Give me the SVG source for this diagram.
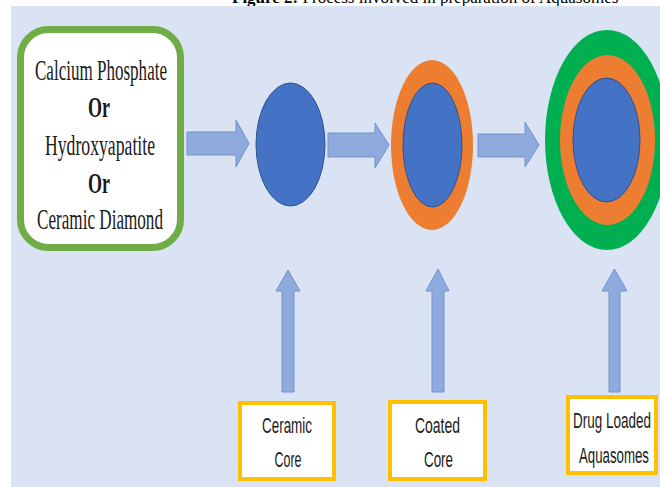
<svg xmlns="http://www.w3.org/2000/svg" width="660" height="487" viewBox="0 0 660 487">
<defs>
<style>
.bg{fill:#DAE3F3}
.src{fill:#FFFFFF;stroke:#70AD47;stroke-width:7}
.ser{font-family:"Liberation Serif","Times New Roman",serif;font-size:29px;fill:#1a1a1a;text-anchor:middle}
.b{font-weight:bold}
.arr{fill:#8FAADC;stroke:#7393CC;stroke-width:1}
.core{fill:#4472C4;stroke:#2F528F;stroke-width:1}
.orange{fill:#ED7D31}
.green{fill:#00B050}
.lbl{fill:#FFFFFF;stroke:#FFC000;stroke-width:4}
.sans{font-family:"Liberation Sans",Arial,sans-serif;font-size:22px;fill:#1a1a1a;text-anchor:middle}
.title{font-family:"Liberation Serif","Times New Roman",serif;font-size:17px;fill:#000}
</style>
</defs>
<rect width="660" height="487" fill="#FFFFFF"/>
<text class="title" x="232" y="3"><tspan font-weight="bold">Figure 2:</tspan> Process involved in preparation of Aquasomes</text>
<rect class="bg" x="11" y="6" width="649" height="481"/>

<g id="source">
<rect class="src" x="20.5" y="29.5" width="160" height="218" rx="28" ry="28"/>
<text class="ser" x="101" y="80" textLength="132" lengthAdjust="spacingAndGlyphs">Calcium Phosphate</text>
<text class="ser b" x="99" y="117" textLength="22" lengthAdjust="spacingAndGlyphs">Or</text>
<text class="ser" x="100" y="155" textLength="110" lengthAdjust="spacingAndGlyphs">Hydroxyapatite</text>
<text class="ser b" x="99" y="193" textLength="22" lengthAdjust="spacingAndGlyphs">Or</text>
<text class="ser" x="100" y="229" textLength="126" lengthAdjust="spacingAndGlyphs">Ceramic Diamond</text>
</g>

<g id="ceramic-core">
<ellipse class="core" cx="290.5" cy="144.5" rx="34.5" ry="61.5"/>
</g>

<g id="coated-core">
<ellipse class="orange" cx="432" cy="145" rx="41" ry="85"/>
<ellipse class="core" cx="432.5" cy="145" rx="29.5" ry="62"/>
</g>

<g id="drug-loaded">
<ellipse class="green" cx="607" cy="140" rx="62" ry="110"/>
<ellipse class="orange" cx="607.5" cy="140" rx="47.5" ry="85"/>
<ellipse class="core" cx="606.5" cy="140" rx="33.5" ry="62"/>
</g>

<g id="label-ceramic">
<rect class="lbl" x="240" y="403" width="94" height="76"/>
<text class="sans" x="287" y="433" textLength="50" lengthAdjust="spacingAndGlyphs">Ceramic</text>
<text class="sans" x="288" y="467" textLength="27" lengthAdjust="spacingAndGlyphs">Core</text>
</g>

<g id="label-coated">
<rect class="lbl" x="390" y="402" width="95" height="77"/>
<text class="sans" x="437.5" y="433" textLength="45" lengthAdjust="spacingAndGlyphs">Coated</text>
<text class="sans" x="438.5" y="467" textLength="29" lengthAdjust="spacingAndGlyphs">Core</text>
</g>

<g id="label-drug">
<rect class="lbl" x="568" y="397" width="88" height="76"/>
<text class="sans" x="612" y="428" textLength="78" lengthAdjust="spacingAndGlyphs">Drug Loaded</text>
<text class="sans" x="614" y="463" textLength="70" lengthAdjust="spacingAndGlyphs">Aquasomes</text>
</g>

<g id="connectors">
<polygon class="arr" points="187,132 236,132 236,120 249,143.5 236,167 236,155 187,155"/>
<polygon class="arr" points="328,133 375,133 375,123 389,145 375,168 375,157 328,157"/>
<polygon class="arr" points="478,134 525,134 525,122 539,145 525,167 525,157 478,157"/>
<polygon class="arr" points="282,392 282,291 276,291 288,270 300,291 294,291 294,392"/>
<polygon class="arr" points="432,392 432,291 426,291 438,269 449,291 444,291 444,392"/>
<polygon class="arr" points="609,392 609,291 602,291 614.5,269 627,291 620,291 620,392"/>
</g>
</svg>
